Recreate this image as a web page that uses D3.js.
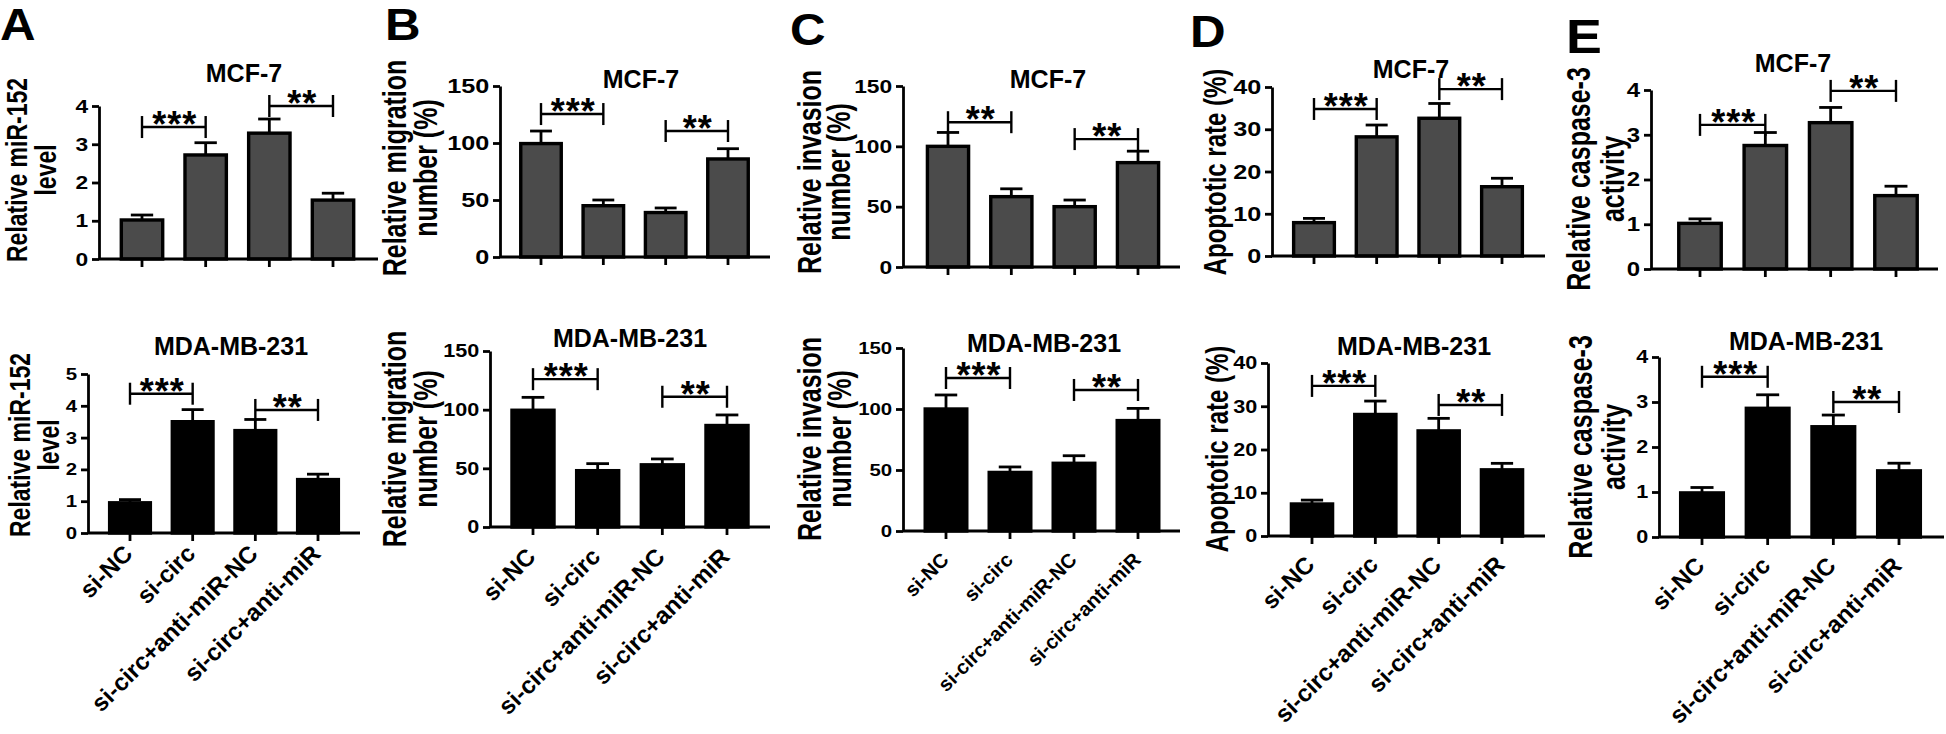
<!DOCTYPE html>
<html><head><meta charset="utf-8">
<script src="https://cdn.jsdelivr.net/npm/d3@7/dist/d3.min.js"></script>
<style>
body{margin:0;background:#fff}
svg{display:block}
text{font-family:Arial,"Liberation Sans",sans-serif;font-weight:bold;fill:#000}
</style>
</head><body>
<svg id="c" width="1946" height="734"></svg>
<script>
// ---------------- DATA ----------------
const categories = ["si-NC", "si-circ", "si-circ+anti-miR-NC", "si-circ+anti-miR"];
const cellLines = ["MCF-7", "MDA-MB-231"];
const panelLetters = ["A", "B", "C", "D", "E"];
const yLabelA = ["Relative miR-152", "level"];
const yLabelB = ["Relative migration", "number (%)"];
const yLabelC = ["Relative invasion", "number (%)"];
const yLabelD = ["Apoptotic rate (%)"];
const yLabelE = ["Relative caspase-3", "activity"];

const ticksMiR_MCF7 = [0, 1, 2, 3, 4];
const ticksMiR_MDA = [0, 1, 2, 3, 4, 5];
const ticksPercent = [0, 50, 100, 150];
const ticksApoptosis = [0, 10, 20, 30, 40];
const ticksCaspase = [0, 1, 2, 3, 4];

const miR152_MCF7 = [1.02, 2.72, 3.29, 1.54];
const miR152_MCF7_err = [0.13, 0.32, 0.37, 0.18];
const miR152_MDA = [0.95, 3.5, 3.22, 1.68];
const miR152_MDA_err = [0.1, 0.38, 0.35, 0.17];

const migration_MCF7 = [99.5, 45, 39, 86];
const migration_MCF7_err = [11, 5, 4, 9];
const migration_MDA = [99.5, 48, 53, 86.5];
const migration_MDA_err = [11, 6, 5, 9];

const invasion_MCF7 = [100, 58.3, 50, 86.5];
const invasion_MCF7_err = [11.5, 6.5, 5.5, 9.5];
const invasion_MDA = [100, 48, 55.5, 90.5];
const invasion_MDA_err = [11.5, 4.5, 6.2, 10];

const apoptosis_MCF7 = [7.9, 28.2, 32.6, 16.4];
const apoptosis_MCF7_err = [1, 2.8, 3.5, 2];
const apoptosis_MDA = [7.4, 28.1, 24.3, 15.3];
const apoptosis_MDA_err = [0.9, 3.1, 2.9, 1.5];

const caspase_MCF7 = [1.02, 2.76, 3.27, 1.64];
const caspase_MCF7_err = [0.1, 0.29, 0.34, 0.21];
const caspase_MDA = [0.98, 2.86, 2.45, 1.47];
const caspase_MDA_err = [0.12, 0.3, 0.26, 0.17];

// significance brackets: bar indices, bracket height (data units), label
const sigA_MCF7 = [{from: 0, to: 1, at: 3.45, label: "***"}, {from: 2, to: 3, at: 4.0, label: "**"}];
const sigA_MDA = [{from: 0, to: 1, at: 4.38, label: "***"}, {from: 2, to: 3, at: 3.87, label: "**"}];
const sigB_MCF7 = [{from: 0, to: 1, at: 125.4, label: "***"}, {from: 2, to: 3, at: 110.5, label: "**"}];
const sigB_MDA = [{from: 0, to: 1, at: 126, label: "***"}, {from: 2, to: 3, at: 111, label: "**"}];
const sigC_MCF7 = [{from: 0, to: 1, at: 120, label: "**"}, {from: 2, to: 3, at: 106, label: "**"}];
const sigC_MDA = [{from: 0, to: 1, at: 125.4, label: "***"}, {from: 2, to: 3, at: 115.6, label: "**"}];
const sigD_MCF7 = [{from: 0, to: 1, at: 34.8, label: "***"}, {from: 2, to: 3, at: 39.5, label: "**"}];
const sigD_MDA = [{from: 0, to: 1, at: 34.7, label: "***"}, {from: 2, to: 3, at: 30.3, label: "**"}];
const sigE_MCF7 = [{from: 0, to: 1, at: 3.22, label: "***"}, {from: 2, to: 3, at: 3.98, label: "**"}];
const sigE_MDA = [{from: 0, to: 1, at: 3.56, label: "***"}, {from: 2, to: 3, at: 3.0, label: "**"}];

// ---------------- LAYOUT (positions & styles) ----------------
const layout = [
  {x0: 99, x1: 378, yMax: 106, yZero: 259, c1: 142, c4: 333, titleX: 244, titleY: 82, labX: [17, 46], labY: 170, labFont: 23, tickFont: 19},
  {x0: 88, x1: 360, yMax: 374, yZero: 533, c1: 130, c4: 318, titleX: 231, titleY: 355, labX: [20, 49], labY: 445, labFont: 23, tickFont: 17, xFont: 24, xTop: 10},
  {x0: 500, x1: 770, yMax: 86, yZero: 257, c1: 541, c4: 728, titleX: 641, titleY: 88, labX: [395, 426], labY: 168, labFont: 25, tickFont: 21},
  {x0: 490, x1: 770, yMax: 351, yZero: 527, c1: 533, c4: 727, titleX: 630, titleY: 347, labX: [395, 426], labY: 439, labFont: 25, tickFont: 18, xFont: 24, xTop: 19},
  {x0: 903, x1: 1180, yMax: 86, yZero: 267, c1: 948, c4: 1138, titleX: 1048, titleY: 88, labX: [810, 839], labY: 172, labFont: 25, tickFont: 19},
  {x0: 903, x1: 1180, yMax: 348, yZero: 531, c1: 946, c4: 1138, titleX: 1044, titleY: 352, labX: [810, 840], labY: 439, labFont: 25, tickFont: 17, xFont: 20, xTop: 20},
  {x0: 1272, x1: 1545, yMax: 87, yZero: 256, c1: 1314, c4: 1502, titleX: 1411, titleY: 78, labX: [1215], labY: 172, labFont: 24, tickFont: 21},
  {x0: 1268, x1: 1545, yMax: 363, yZero: 536, c1: 1312, c4: 1502, titleX: 1414, titleY: 355, labX: [1217], labY: 449, labFont: 24, tickFont: 18, xFont: 24, xTop: 18},
  {x0: 1651, x1: 1938, yMax: 90, yZero: 269, c1: 1700, c4: 1896, titleX: 1793, titleY: 72, labX: [1579, 1613], labY: 179, labFont: 25, tickFont: 20},
  {x0: 1659, x1: 1944, yMax: 357, yZero: 537, c1: 1702, c4: 1899, titleX: 1806, titleY: 350, labX: [1581, 1614], labY: 447, labFont: 25, tickFont: 18, xFont: 24, xTop: 18}
];
const letterPos = [[0, 40], [385, 40], [790, 45], [1190, 47], [1566, 53]];
const letterSize = [44, 44, 44, 44, 48];
const labStretch = 1.3, tickStretch = 1.2, letterStretch = 1.12;
const topFill = "#4b4b4b", bottomFill = "#000";

const charts = [
  {vals: miR152_MCF7, errs: miR152_MCF7_err, ticks: ticksMiR_MCF7, title: cellLines[0], ylab: yLabelA, sig: sigA_MCF7, fill: topFill, showX: false},
  {vals: miR152_MDA, errs: miR152_MDA_err, ticks: ticksMiR_MDA, title: cellLines[1], ylab: yLabelA, sig: sigA_MDA, fill: bottomFill, showX: true},
  {vals: migration_MCF7, errs: migration_MCF7_err, ticks: ticksPercent, title: cellLines[0], ylab: yLabelB, sig: sigB_MCF7, fill: topFill, showX: false},
  {vals: migration_MDA, errs: migration_MDA_err, ticks: ticksPercent, title: cellLines[1], ylab: yLabelB, sig: sigB_MDA, fill: bottomFill, showX: true},
  {vals: invasion_MCF7, errs: invasion_MCF7_err, ticks: ticksPercent, title: cellLines[0], ylab: yLabelC, sig: sigC_MCF7, fill: topFill, showX: false},
  {vals: invasion_MDA, errs: invasion_MDA_err, ticks: ticksPercent, title: cellLines[1], ylab: yLabelC, sig: sigC_MDA, fill: bottomFill, showX: true},
  {vals: apoptosis_MCF7, errs: apoptosis_MCF7_err, ticks: ticksApoptosis, title: cellLines[0], ylab: yLabelD, sig: sigD_MCF7, fill: topFill, showX: false},
  {vals: apoptosis_MDA, errs: apoptosis_MDA_err, ticks: ticksApoptosis, title: cellLines[1], ylab: yLabelD, sig: sigD_MDA, fill: bottomFill, showX: true},
  {vals: caspase_MCF7, errs: caspase_MCF7_err, ticks: ticksCaspase, title: cellLines[0], ylab: yLabelE, sig: sigE_MCF7, fill: topFill, showX: false},
  {vals: caspase_MDA, errs: caspase_MDA_err, ticks: ticksCaspase, title: cellLines[1], ylab: yLabelE, sig: sigE_MDA, fill: bottomFill, showX: true}
];

// ---------------- DRAW ----------------
const svg = d3.select("#c");

panelLetters.forEach((L, i) => {
  svg.append("text").attr("transform", `translate(${letterPos[i][0]},${letterPos[i][1]}) scale(${letterStretch},1)`)
    .style("font-size", letterSize[i] + "px").text(L);
});

charts.forEach((ch, i) => {
  const L = layout[i];
  const g = svg.append("g");
  const step = (L.c4 - L.c1) / 3;
  const x = d3.scaleBand().domain(categories)
    .range([L.c1 - step / 2, L.c4 + step / 2]).paddingInner(0.35).paddingOuter(0.175);
  const y = d3.scaleLinear().domain([0, d3.max(ch.ticks)]).range([L.yZero, L.yMax]);
  const bw = x.bandwidth();
  const cx = c => x(c) + bw / 2;
  const data = categories.map((c, k) => ({c, v: ch.vals[k], e: ch.errs[k]}));

  // error bars (upper whisker only)
  const eb = g.append("g").attr("stroke", "#000").attr("stroke-width", 2.8);
  data.forEach(d => {
    eb.append("line").attr("x1", cx(d.c)).attr("x2", cx(d.c)).attr("y1", y(d.v)).attr("y2", y(d.v + d.e));
    eb.append("line").attr("x1", cx(d.c) - bw * 0.27).attr("x2", cx(d.c) + bw * 0.27)
      .attr("y1", y(d.v + d.e)).attr("y2", y(d.v + d.e));
  });

  // bars
  g.selectAll("rect.bar").data(data).join("rect").attr("class", "bar")
    .attr("x", d => x(d.c)).attr("width", bw)
    .attr("y", d => y(d.v)).attr("height", d => y(0) - y(d.v))
    .attr("fill", ch.fill).attr("stroke", "#000").attr("stroke-width", 3.4);

  // y axis
  const ya = g.append("g").attr("transform", `translate(${L.x0},0)`)
    .call(d3.axisLeft(y).tickValues(ch.ticks).tickSize(7).tickSizeOuter(0).tickPadding(2).tickFormat(d3.format("d")));
  ya.select(".domain").attr("stroke-width", 2.8);
  ya.selectAll(".tick line").attr("stroke-width", 2.8);
  ya.selectAll(".tick text").style("font-size", L.tickFont + "px").attr("font-family", null).attr("fill", "#000")
    .attr("transform", `scale(${tickStretch},1)`);

  // x axis line + ticks
  const xa = g.append("g").attr("transform", `translate(0,${L.yZero})`)
    .call(d3.axisBottom(x).tickSize(8).tickSizeOuter(0).tickFormat(""));
  xa.select(".domain").attr("d", `M${L.x0},0H${L.x1}`).attr("stroke-width", 2.8);
  xa.selectAll(".tick line").attr("stroke-width", 2.8);

  // x labels
  if (ch.showX) {
    const cap = 0.716 * L.xFont * 0.707;
    categories.forEach(c => {
      g.append("text")
        .attr("transform", `translate(${cx(c) + 4},${L.yZero + L.xTop + cap}) rotate(-45)`)
        .attr("text-anchor", "end").style("font-size", L.xFont + "px").text(c);
    });
  }

  // significance brackets
  ch.sig.forEach(s => {
    const xa1 = cx(categories[s.from]), xa2 = cx(categories[s.to]), yy = y(s.at);
    const bg = g.append("g").attr("stroke", "#000").attr("stroke-width", 2.4);
    bg.append("line").attr("x1", xa1).attr("x2", xa2).attr("y1", yy).attr("y2", yy);
    bg.append("line").attr("x1", xa1).attr("x2", xa1).attr("y1", yy - 11).attr("y2", yy + 11);
    bg.append("line").attr("x1", xa2).attr("x2", xa2).attr("y1", yy - 11).attr("y2", yy + 11);
    g.append("text").attr("x", (xa1 + xa2) / 2 + 1).attr("y", yy + 10)
      .attr("text-anchor", "middle").style("font-size", "36px").style("letter-spacing", "1px").text(s.label);
  });

  // title
  g.append("text").attr("x", L.titleX).attr("y", L.titleY).attr("text-anchor", "middle")
    .style("font-size", "25px").text(ch.title);

  // y label
  ch.ylab.forEach((t, k) => {
    g.append("text").attr("transform", `translate(${L.labX[k]},${L.labY}) scale(${labStretch},1) rotate(-90)`)
      .attr("text-anchor", "middle").attr("dy", "0.35em").style("font-size", L.labFont + "px").text(t);
  });
});
</script>
</body></html>
